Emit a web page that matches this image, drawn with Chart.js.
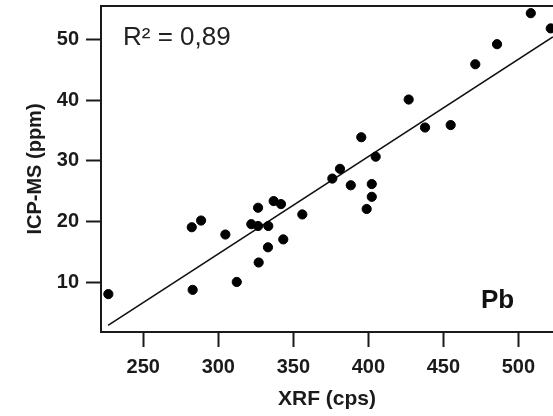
<!DOCTYPE html>
<html lang="en">
<head>
  <meta charset="UTF-8">
  <title>Pb XRF vs ICP-MS</title>
  <script src="https://cdn.jsdelivr.net/npm/chart.js"></script>
  <style>
    html, body {
      margin: 0;
      padding: 0;
      background: #fff;
    }
    #wrap {
      width: 553px;
      height: 416px;
    }
  </style>
</head>
<body>

<div id="wrap"><canvas id="chart"></canvas></div>

<script>
  // XRF counts (cps) and ICP-MS (ppm) for Pb
  const xrf = [226.7, 282.3, 288.5, 282.9, 304.7, 312.3, 326.5, 322, 326.5, 333.3,
               336.9, 341.8, 343.3, 333.1, 326.9, 356, 376, 381.1, 388.3, 395.3,
               398.9, 402.3, 402.3, 404.9, 426.9, 437.8, 454.9, 471.3, 485.8, 508.3, 521.6];
  const icpms = [8.1, 19.1, 20.2, 8.8, 17.9, 10.1, 22.3, 19.6, 19.3, 19.3,
                 23.4, 22.9, 17.1, 15.8, 13.3, 21.2, 27.1, 28.7, 26.0, 33.9,
                 22.1, 26.2, 24.1, 30.7, 40.1, 35.5, 35.9, 45.9, 49.2, 54.3, 51.8];

  // regression line end points
  const fitX = [226.5, 523];
  const fitY = [2.95, 50.4];

  const xTicks = [250, 300, 350, 400, 450, 500];
  const yTicks = [10, 20, 30, 40, 50];

  const r2Label = 'R² = 0,89';
  const elementLabel = 'Pb';

  const fontFamily = 'Arial, "Liberation Sans", sans-serif';
  const ink = '#1a1a1a';

  // keep the plot box where the figure has it, labels may overhang
  const noPad = s => {
    s.paddingTop = 0;
    s.paddingBottom = 0;
    s.paddingLeft = 0;
    s.paddingRight = 0;
  };

  const framePlugin = {
    id: 'frame',
    afterDraw(chart) {
      const { ctx, chartArea: a } = chart;
      ctx.save();
      ctx.strokeStyle = ink;
      ctx.lineWidth = 2;
      ctx.beginPath();
      ctx.moveTo(a.left - 1, a.top);
      ctx.lineTo(a.right, a.top);
      ctx.stroke();

      ctx.fillStyle = '#222';
      ctx.textBaseline = 'alphabetic';
      ctx.textAlign = 'left';
      ctx.font = '26px ' + fontFamily;
      ctx.fillText(r2Label, a.left + 22, a.top + 39);

      ctx.fillStyle = '#111';
      ctx.font = 'bold 26px ' + fontFamily;
      ctx.fillText(elementLabel, 481, 308);
      ctx.restore();
    }
  };

  new Chart(document.getElementById('chart'), {
    type: 'scatter',
    data: {
      datasets: [
        {
          data: xrf.map((x, i) => ({ x: x, y: icpms[i] })),
          backgroundColor: '#000',
          borderColor: '#000',
          pointRadius: 4.6,
          pointHoverRadius: 4.6
        },
        {
          data: fitX.map((x, i) => ({ x: x, y: fitY[i] })),
          showLine: true,
          borderColor: '#111',
          borderWidth: 1.6,
          pointRadius: 0,
          fill: false
        }
      ]
    },
    plugins: [framePlugin],
    options: {
      responsive: true,
      maintainAspectRatio: false,
      animation: false,
      layout: {
        autoPadding: false,
        padding: { top: 6, right: 0, left: 0, bottom: 0 }
      },
      plugins: {
        legend: { display: false },
        tooltip: { enabled: false }
      },
      scales: {
        x: {
          type: 'linear',
          min: 221.8,
          max: 523.1,
          afterBuildTicks: s => { s.ticks = xTicks.map(v => ({ value: v })); },
          afterFit: s => { s.height = 84; noPad(s); },
          grid: {
            drawOnChartArea: false,
            drawTicks: true,
            tickLength: 15,
            tickWidth: 2,
            tickColor: ink
          },
          border: { display: true, color: ink, width: 2 },
          ticks: {
            color: ink,
            padding: 8,
            maxRotation: 0,
            font: { family: fontFamily, size: 20, weight: 'bold' }
          },
          title: {
            display: true,
            text: 'XRF (cps)',
            color: ink,
            padding: { top: 0, bottom: 4 },
            font: { family: fontFamily, size: 21, weight: 'bold' }
          }
        },
        y: {
          type: 'linear',
          min: 1.87,
          max: 55.48,
          afterBuildTicks: s => { s.ticks = yTicks.map(v => ({ value: v })); },
          afterFit: s => { s.width = 101; noPad(s); },
          grid: {
            drawOnChartArea: false,
            drawTicks: true,
            tickLength: 15,
            tickWidth: 2,
            tickColor: ink
          },
          border: { display: true, color: ink, width: 2 },
          ticks: {
            color: ink,
            padding: 7,
            font: { family: fontFamily, size: 20, weight: 'bold' }
          },
          title: {
            display: true,
            text: 'ICP-MS (ppm)',
            color: ink,
            padding: { top: 23, bottom: 0 },
            font: { family: fontFamily, size: 20, weight: 'bold' }
          }
        }
      }
    }
  });
</script>

</body>
</html>
